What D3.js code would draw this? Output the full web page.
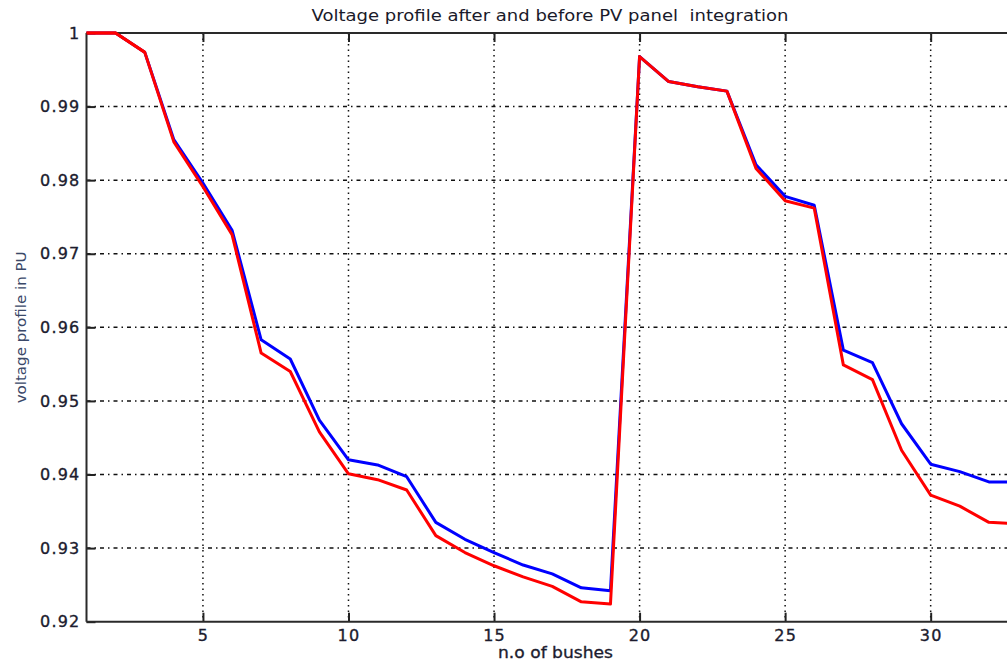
<!DOCTYPE html>
<html>
<head>
<meta charset="utf-8">
<script src="https://cdn.jsdelivr.net/npm/d3@7"></script>
<style>
  html, body { margin: 0; padding: 0; background: #fff; }
  svg { display: block; }
</style>
</head>
<body>
<svg id="chart" width="1007" height="666"></svg>
<script>
// ---- data ----
const buses = [1,2,3,4,5,6,7,8,9,10,11,12,13,14,15,16,17,18,19,20,21,22,23,24,25,26,27,28,29,30,31,32,33];
const voltageAfterPV = [1.0000, 1.0000, 0.9974, 0.9855, 0.9796, 0.9732, 0.9583, 0.9557, 0.9474, 0.9420,
  0.9413, 0.9397, 0.9335, 0.9312, 0.9294, 0.9277, 0.9265, 0.9246, 0.9242, 0.9968,
  0.9934, 0.9927, 0.9921, 0.9821, 0.9778, 0.9766, 0.9569, 0.9552, 0.9469, 0.9414,
  0.9404, 0.9390, 0.9390];
const voltageBeforePV = [1.0000, 1.0000, 0.9974, 0.9852, 0.9791, 0.9726, 0.9565, 0.9540, 0.9458, 0.9401,
  0.9393, 0.9379, 0.9317, 0.9294, 0.9276, 0.9261, 0.9248, 0.9227, 0.9224, 0.9968,
  0.9934, 0.9927, 0.9921, 0.9816, 0.9772, 0.9762, 0.9549, 0.9529, 0.9433, 0.9372,
  0.9357, 0.9335, 0.9333];
const xTicks = [5, 10, 15, 20, 25, 30];
const yTicks = [0.92, 0.93, 0.94, 0.95, 0.96, 0.97, 0.98, 0.99, 1];
const titleText = "Voltage profile after and before PV panel  integration";
const xLabelText = "n.o of bushes";
const yLabelText = "voltage profile in PU";

// ---- layout ----
const svg = d3.select("#chart");
const pLeft = 86.5, pRight = 1018, pTop = 33, pBottom = 621.7;
const x = d3.scaleLinear().domain([1, 33]).range([pLeft, pRight]);
const y = d3.scaleLinear().domain([0.92, 1]).range([pBottom, pTop]);

svg.append("rect").attr("width", 1007).attr("height", 666).attr("fill", "#fff");

// grid
const grid = svg.append("g");
grid.selectAll("line.hg").data(yTicks.filter(d => d < 1 && d > 0.92)).enter().append("line")
  .attr("x1", pLeft).attr("x2", pRight)
  .attr("y1", d => y(d)).attr("y2", d => y(d))
  .attr("stroke", "#111").attr("stroke-width", 1.5)
  .attr("stroke-dasharray", "4,4,1.5,4");
grid.selectAll("line.vg").data(xTicks).enter().append("line")
  .attr("x1", d => x(d)).attr("x2", d => x(d))
  .attr("y1", pTop).attr("y2", pBottom)
  .attr("stroke", "#111").attr("stroke-width", 1.5)
  .attr("stroke-dasharray", "1.5,4");

// axes
const tickFont = "'DejaVu Sans', Verdana, sans-serif";
const xAxis = svg.append("g").attr("transform", `translate(0,${pBottom})`)
  .call(d3.axisBottom(x).tickValues(xTicks).tickSizeInner(-9).tickSizeOuter(0).tickPadding(8).tickFormat(d3.format("d")));
const xAxisTop = svg.append("g").attr("transform", `translate(0,${pTop})`)
  .call(d3.axisTop(x).tickValues(xTicks).tickSizeInner(-9).tickSizeOuter(0).tickFormat(""));
const yAxis = svg.append("g").attr("transform", `translate(${pLeft},0)`)
  .call(d3.axisLeft(y).tickValues(yTicks).tickSizeInner(-9).tickSizeOuter(0).tickPadding(6)
    .tickFormat(d => d === 1 ? "1" : d3.format(".2f")(d)));

[xAxis, xAxisTop, yAxis].forEach(g => {
  g.select(".domain").remove();
  g.selectAll(".tick line").attr("stroke", "#222").attr("stroke-width", 2);
  g.selectAll(".tick text").attr("fill", "#1c1c2e")
    .attr("stroke", "#1c1c2e").attr("stroke-width", 0.35)
    .style("font-family", tickFont).style("font-size", "16px")
    .style("letter-spacing", "1.2px");
});

// data lines
const line = d3.line().x((d, i) => x(buses[i])).y(d => y(d));
svg.append("path").datum(voltageAfterPV)
  .attr("d", line).attr("fill", "none").attr("stroke", "#0000ff")
  .attr("stroke-width", 3).attr("stroke-linejoin", "round");
svg.append("path").datum(voltageBeforePV)
  .attr("d", line).attr("fill", "none").attr("stroke", "#ff0000")
  .attr("stroke-width", 3).attr("stroke-linejoin", "round");

// box lines (left, bottom, top)
svg.append("line").attr("x1", pLeft).attr("x2", pLeft).attr("y1", pTop).attr("y2", pBottom)
  .attr("stroke", "#2a2a2a").attr("stroke-width", 2);
svg.append("line").attr("x1", pLeft).attr("x2", pRight).attr("y1", pBottom).attr("y2", pBottom)
  .attr("stroke", "#2a2a2a").attr("stroke-width", 2);
svg.append("line").attr("x1", pLeft).attr("x2", pRight).attr("y1", pTop).attr("y2", pTop)
  .attr("stroke", "#2a2a2a").attr("stroke-width", 2);
// redraw the flat start of the red line over the top axis
svg.append("path").datum(voltageBeforePV.slice(0, 3))
  .attr("d", line).attr("fill", "none").attr("stroke", "#ff0000")
  .attr("stroke-width", 3).attr("stroke-linejoin", "round");

// title and labels
svg.append("text").attr("x", 311.5).attr("y", 21)
  .attr("textLength", 477).attr("lengthAdjust", "spacingAndGlyphs")
  .attr("fill", "#1a1a2a").style("white-space", "pre")
  .style("font-family", "'DejaVu Sans', Tahoma, sans-serif").style("font-size", "15px")
  .text(titleText);

svg.append("text").attr("x", 498).attr("y", 658)
  .attr("textLength", 115).attr("lengthAdjust", "spacingAndGlyphs")
  .attr("fill", "#1c1c2e").attr("stroke", "#1c1c2e").attr("stroke-width", 0.3)
  .style("font-family", tickFont).style("font-size", "15px")
  .text(xLabelText);

svg.append("text")
  .attr("transform", `translate(26,${(pTop + pBottom) / 2}) rotate(-90)`)
  .attr("x", -76).attr("y", 0)
  .attr("textLength", 152).attr("lengthAdjust", "spacingAndGlyphs")
  .attr("fill", "#3a4868")
  .style("font-family", "'DejaVu Sans', Tahoma, sans-serif").style("font-size", "14px")
  .text(yLabelText);
</script>
</body>
</html>
